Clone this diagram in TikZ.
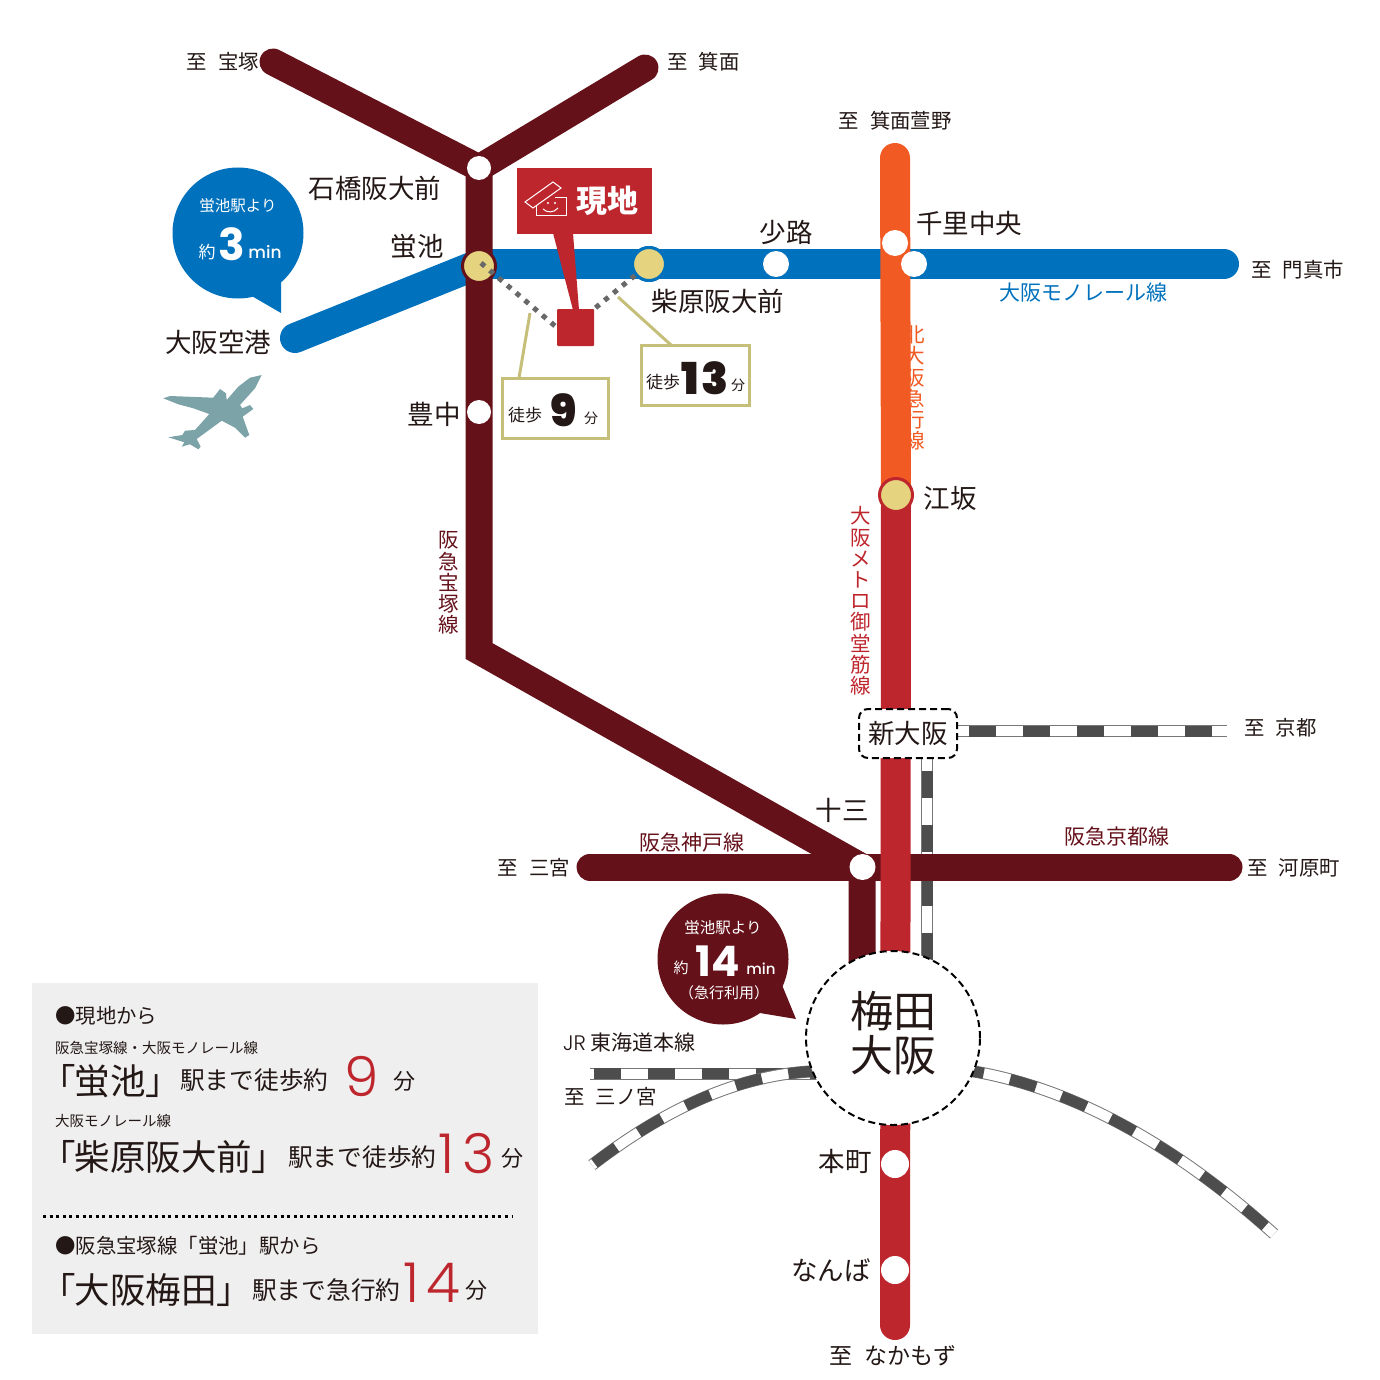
\documentclass[tikz,border=0pt]{standalone}
\usepackage{fontspec}
\setmainfont{Noto Sans CJK JP}
\newfontfamily\cjkprop[RawFeature=+palt]{Noto Sans CJK JP}
\newfontfamily\numblack{Poppins Black}
\newfontfamily\numbold{Poppins}[BoldFont={Poppins Bold}]
\newfontfamily\numlight{Poppins Light}
\newfontfamily\nummid{Poppins Medium}
\newcommand{\tx}[1]{\fontsize{#1}{#1}\selectfont}
\newcommand{\vtx}{\fontsize{20.5}{21.2}\selectfont}
\newcommand{\dest}[1]{至\hspace{.55em}#1}
\definecolor{hankyu}{HTML}{65111A}
\definecolor{metro}{HTML}{BE262E}
\definecolor{kita}{HTML}{F15A22}
\definecolor{mono}{HTML}{0071BC}
\definecolor{stationy}{HTML}{E5D37F}
\definecolor{walkline}{HTML}{C5BF7A}
\definecolor{railgray}{HTML}{777777}
\definecolor{raildark}{HTML}{4D4D4D}
\definecolor{planecol}{HTML}{7BA3A8}
\definecolor{panelgray}{HTML}{EFEFEF}
\definecolor{ink}{HTML}{231815}
\tikzset{
  lbl/.style={inner sep=0pt,text=ink,font=\tx{26.5},yshift=-.3pt},
  dst/.style={inner sep=0pt,text=ink,font=\tx{20.4},yshift=-.3pt},
  small/.style={inner sep=0pt,text=ink,font=\tx{21},yshift=-.3pt},
  vlbl/.style={inner sep=0pt,align=center,font=\vtx},
  stop/.style={circle,fill=white,minimum size=26pt,inner sep=0pt},
  transfer/.style={circle,fill=stationy,minimum size=33pt,inner sep=0pt,line width=3pt},
  walkbox/.style={rectangle,draw=walkline,line width=3pt,fill=white,inner sep=0pt},
  railtrack/.style={draw=railgray,line width=12pt,
    postaction={draw=white,line width=10pt},
    postaction={draw=raildark,line width=11pt,dash pattern=on 27pt off 27pt,dash phase=#1}},
  bubble/.style={circle,inner sep=0pt,minimum size=131pt},
  wtext/.style={inner sep=0pt,text=white},
  rednum/.style={inner sep=0pt,text=metro,font=\numlight\tx{55}},
  dashline/.style={draw=black,line width=2pt,dash pattern=on 7pt off 4pt,fill=white}
}
\begin{document}
\begin{tikzpicture}[x=1pt,y=-1pt]
  \useasboundingbox (0,0) rectangle (1380,1380);
  \coordinate (takarazuka) at (273,62);
  \coordinate (minoh) at (645,68);
  \coordinate (ishibashi) at (479,168);
  \coordinate (hotarugaike) at (479,266);
  \coordinate (bend) at (479,651);
  \coordinate (juso) at (862,867);
  \coordinate (kobeEnd) at (590,867);
  \coordinate (kyotoEnd) at (1229,867);
  \coordinate (umedaIn) at (862,975);
  \coordinate (airport) at (295,338);
  \coordinate (monoEnd) at (1224,264);
  \coordinate (monoStart) at (479,264);
  \coordinate (kitaTop) at (895,158);
  \coordinate (esaka) at (896,495);
  \coordinate (metroEnd) at (895,1325);
  \coordinate (kyotoRail) at (1227,731);
  \coordinate (sanRailA) at (590,1073.5);
  \coordinate (sanRailB) at (820,1073.5);
  \coordinate (curveA) at (592,1165);
  \coordinate (curveB) at (820,1071);
  \coordinate (curveC) at (965,1070);
  \coordinate (curveD) at (1274,1234);
  \coordinate (railTop) at (927,758);
  \coordinate (railDown) at (927,975);

  \fill [panelgray] (32,983) rectangle (538,1334);

  \draw [railtrack=50] (sanRailA) -- (sanRailB);
  \draw [railtrack=51] (curveA) .. controls (670,1105) and (745,1073) .. (curveB);
  \draw [railtrack=8] (curveC) .. controls (1065,1085) and (1170,1140) .. (curveD);
  \draw [railtrack=41] (railTop) -- (railDown);

  \draw [mono,line width=30pt,line cap=round] (airport) -- (monoStart);
  \draw [mono,line width=30pt,line cap=round] (monoStart) -- (monoEnd);
  \draw [kita,line width=30pt,line cap=round] (kitaTop) -- (esaka);
  \draw [hankyu,line width=27pt,line cap=round] (takarazuka) -- (ishibashi) -- (minoh);
  \draw [hankyu,line width=27pt] (ishibashi) -- (bend) -- (juso) -- (umedaIn);
  \draw [hankyu,line width=27pt,line cap=round] (kobeEnd) -- (kyotoEnd);
  \draw [metro,line width=30pt,line cap=round] (esaka) -- (metroEnd);

  \draw [railtrack=42] (957,731) -- (kyotoRail);
  \node (shinosaka) [dashline,rounded corners=9pt,minimum width=98pt,minimum height=49pt,inner sep=0pt,text=ink,font=\tx{26.5}] at (908,733.5) {新大阪};
  \node (umedaRing) [dashline,circle,minimum size=174pt,inner sep=0pt] at (893,1038) {};
  \node (umeda) [inner sep=0pt,align=center,text=ink,font=\fontsize{43}{44}\selectfont] at (893,1033) {梅田\\大阪};

  \node (stIshibashi) [stop,minimum size=24pt] at (ishibashi) {};
  \node (stToyonaka) [stop,minimum size=24pt] at (479,412) {};
  \node (stShoji) [stop] at (776,264) {};
  \node (stSenriA) [stop] at (895,243) {};
  \node (stSenriB) [stop] at (914,264) {};
  \node (stJuso) [stop] at (862.5,867) {};
  \node (stHonmachi) [stop,minimum size=28pt] at (895,1164) {};
  \node (stNamba) [stop,minimum size=28pt] at (895,1270) {};
  \node (stHota) [transfer,draw=hankyu] at (hotarugaike) {};
  \node (stShiba) [transfer,draw=mono] at (649,264) {};
  \node (stEsaka) [transfer,draw=metro] at (esaka) {};

  \node (site) [rectangle,fill=metro,minimum size=37pt,inner sep=0pt,rounded corners=1pt] at (575.5,327.5) {};
  \draw [raildark!85,line width=5pt,dash pattern=on 5pt off 6.5pt] (481,263) -- (site.west);
  \draw [raildark!85,line width=5pt,dash pattern=on 5pt off 6.5pt] (stShiba) -- (site.north east);
  \node (stShibaTop) [transfer,draw=mono] at (649,264) {};

  \node (sitePin) [rectangle,fill=metro,minimum width=135pt,minimum height=66pt,inner sep=0pt] at (584.5,201) {};
  \fill [metro] (553,233) -- (573,233) -- (579,310) -- (573,310) -- cycle;
  \node (siteText) [wtext,font=\bfseries\tx{31}] at (607,201) {現地};
  \draw [white,line width=1pt] (525,202) -- (553,182) -- (561,188) -- (533,208) -- cycle;
  \draw [white,line width=1pt] (536,206) -- (536,216) -- (566,216) -- (566,198) -- (555,198);
  \draw [white,line width=1pt] (543,209) .. controls (547,213) and (554,213) .. (558,208);
  \fill [white] (548,203) circle [radius=1.2pt];
  \fill [white] (555,203) circle [radius=1.2pt];

  \coordinate (walkNineTop) at (530,313);
  \coordinate (walkNineFoot) at (519,378);
  \coordinate (walkThirTop) at (618,297);
  \coordinate (walkThirFoot) at (671,345);
  \draw [walkline,line width=3pt] (walkNineTop) -- (walkNineFoot);
  \draw [walkline,line width=3pt] (walkThirTop) -- (walkThirFoot);
  \node (walkNine) [walkbox,minimum width=106pt,minimum height=60pt] at (555.5,408.5) {};
  \node (walkThir) [walkbox,minimum width=108pt,minimum height=60pt] at (695.5,375.5) {};
  \node (nineA) [lbl,font=\tx{17}] at (525,415) {徒歩};
  \node (nineB) [lbl,font=\numblack\tx{44}] at (563.5,410) {9};
  \node (nineC) [lbl,font=\tx{14}] at (591,418) {分};
  \node (thirA) [lbl,font=\tx{17}] at (663,382) {徒歩};
  \node (thirB) [lbl,font=\numblack\tx{44}] at (705,378) {1\hspace{2pt}3};
  \node (thirC) [lbl,font=\tx{14}] at (738,385) {分};

  \node (blueBubble) [bubble,fill=mono] at (238,233) {};
  \fill [mono] (281,275) -- (281,313) -- (250,295) -- cycle;
  \node (blueA) [wtext,font=\tx{15.5}] at (238,206) {蛍池駅より};
  \node (blueB) [wtext,font=\tx{17}] at (207,252) {約};
  \node (blueC) [wtext,font=\numbold\bfseries\tx{44}] at (232,244) {3};
  \node (blueD) [wtext,font=\nummid\tx{17}] at (265,252) {min};

  \node (darkBubble) [bubble,fill=hankyu] at (723,959) {};
  \fill [hankyu] (782,985) -- (796,1019) -- (760,1013) -- cycle;
  \node (darkA) [wtext,font=\tx{15.5}] at (723,928) {蛍池駅より};
  \node (darkB) [wtext,font=\tx{15}] at (681,968) {約};
  \node (darkC) [wtext,font=\numbold\bfseries\tx{42}] at (718,961) {14};
  \node (darkD) [wtext,font=\nummid\tx{15}] at (761,969) {min};
  \node (darkE) [wtext,font=\tx{15}] at (724,993) {（急行利用）};

  \fill [planecol] (261.7,375) -- (250,377.7) -- (238.3,386.7) -- (226.7,400) -- (226,393.3) -- (220,389) -- (213.3,397.7) -- (170,396) -- (163.3,398.3) -- (178.3,404.3) -- (193.3,408.3) -- (209.3,414) -- (195,430) -- (185,430.7) -- (182.3,435) -- (168.3,437.3) -- (184.3,442.3) -- (181.7,446.7) -- (190,444.3) -- (198.3,449.3) -- (200.7,446.7) -- (196.7,439) -- (221.7,420.7) -- (235,427.7) -- (245,437.7) -- (249.3,435) -- (242.7,416.7) -- (253.3,409) -- (250,405) -- (242.3,408.3) -- (240,405) -- (255,388.3) -- cycle;

  \node (toTakarazuka) [dst,anchor=east] at (259,61) {\dest{宝塚}};
  \node (toMinoh) [dst,anchor=west] at (667,61) {\dest{箕面}};
  \node (toMinohsemi) [dst] at (895,120) {\dest{箕面萱野}};
  \node (toKadoma) [dst,anchor=west] at (1251,269) {\dest{門真市}};
  \node (toKyoto) [dst,anchor=west] at (1244,727) {\dest{京都}};
  \node (toSannomiya) [dst,anchor=east] at (570,867) {\dest{三宮}};
  \node (toKawaramachi) [dst,anchor=west] at (1247,868) {\dest{河原町}};
  \node (toSanJR) [dst,anchor=west] at (564,1096) {\dest{三ノ宮}};
  \node (toNakamozu) [small,font=\tx{23}] at (893,1355) {\dest{なかもず}};

  \node (lbIshibashi) [lbl] at (375,188) {石橋阪大前};
  \node (lbHota) [lbl] at (417,246) {蛍池};
  \node (lbSenri) [lbl] at (969,223) {千里中央};
  \node (lbShoji) [lbl] at (786,232) {少路};
  \node (lbShiba) [lbl] at (718,301) {柴原阪大前};
  \node (lbAirport) [lbl] at (218,342) {大阪空港};
  \node (lbToyonaka) [lbl] at (434,414) {豊中};
  \node (lbEsaka) [lbl] at (950,498) {江坂};
  \node (lbJuso) [lbl] at (842,810) {十三};
  \node (lbHonmachi) [lbl] at (845,1161) {本町};
  \node (lbNamba) [lbl] at (831,1270) {なんば};

  \node (lnMono) [small,text=mono] at (1083,292) {大阪モノレール線};
  \node (lnKyoto) [small,text=hankyu] at (1117,836) {阪急京都線};
  \node (lnKobe) [small,text=hankyu] at (692,842) {阪急神戸線};
  \node (lnKita) [vlbl,text=kita] at (915,388) {北\\大\\阪\\急\\行\\線};
  \node (lnMetro) [vlbl,text=metro] at (861,601) {大\\阪\\メ\\ト\\ロ\\御\\堂\\筋\\線};
  \node (lnTaka) [vlbl,text=hankyu] at (449,583) {阪\\急\\宝\\塚\\線};
  \node (lnJR) [small,anchor=west] at (563,1042) {{\numlight JR} 東海道本線};

  \node (pnA) [dst,anchor=west] at (55,1015) {●現地から};
  \node (pnB) [lbl,font=\tx{14.5},anchor=west] at (55,1048) {阪急宝塚線・大阪モノレール線};
  \node (pnC) [lbl,font=\cjkprop\tx{35.5},anchor=west] at (57,1081) {「蛍池」};
  \node (pnD) [lbl,font=\tx{24.7},anchor=west] at (180,1080) {駅まで徒歩約};
  \node (pnE) [rednum] at (362,1076) {9};
  \node (pnF) [lbl,font=\tx{22}] at (404,1081) {分};
  \node (pnG) [lbl,font=\tx{14.5},anchor=west] at (55,1121) {大阪モノレール線};
  \node (pnH) [lbl,font=\cjkprop\tx{35.5},anchor=west] at (57,1157) {「柴原阪大前」};
  \node (pnI) [lbl,font=\tx{24.7},anchor=west] at (288,1157) {駅まで徒歩約};
  \node (pnJ) [rednum] at (467,1154) {1\hspace{8pt}3};
  \node (pnK) [lbl,font=\tx{22}] at (512,1158) {分};
  \draw [black,line width=2.5pt,dash pattern=on 3pt off 3.6pt] (43,1216.5) -- (513,1216.5);
  \node (pnL) [dst,anchor=west] at (55,1246) {●阪急宝塚線「蛍池」駅から};
  \node (pnM) [lbl,font=\cjkprop\tx{35.5},anchor=west] at (57,1290) {「大阪梅田」};
  \node (pnN) [lbl,font=\tx{24.7},anchor=west] at (252,1290) {駅まで急行約};
  \node (pnO) [rednum] at (432,1283) {1\hspace{7pt}4};
  \node (pnP) [lbl,font=\tx{22}] at (476,1290) {分};
\end{tikzpicture}
\end{document}
